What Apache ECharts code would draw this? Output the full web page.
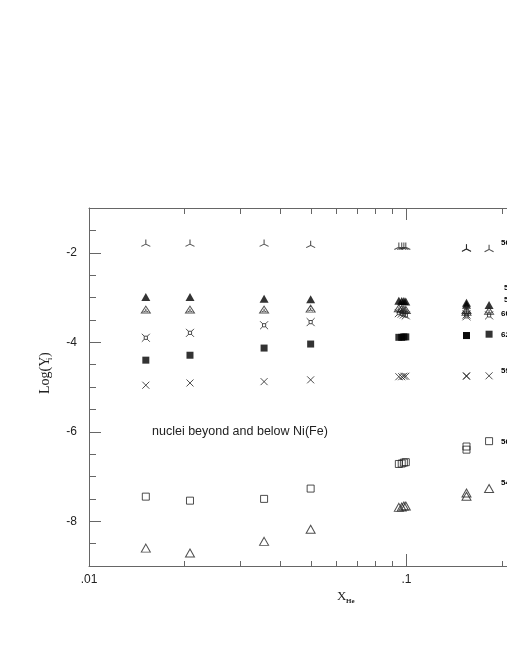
<!DOCTYPE html>
<html><head><meta charset="utf-8">
<script src="https://cdn.jsdelivr.net/npm/echarts@6/dist/echarts.min.js"></script>
<style>html,body{margin:0;padding:0;background:#fff}#c{width:507px;height:656px}</style>
</head><body><div id="c"></div>
<script>
// X_He of each model point (columns; the cluster near 0.1 and the pair at 0.15)
const xHe = [0.0151, 0.0208, 0.0356, 0.0499, 0.0946, 0.0966, 0.0981, 0.0995, 0.1545, 0.1545, 0.182];
// Log(Y_i) of each nucleus
const yTriStar   = [-1.78, -1.78, -1.78, -1.81, -1.85, -1.85, -1.85, -1.85, -1.89, -1.89, -1.90];
const yFilledTri = [-2.99, -2.99, -3.03, -3.04, -3.07, -3.08, -3.08, -3.09, -3.12, -3.16, -3.17];
const yTriA      = [-3.27, -3.27, -3.27, -3.25, -3.24, -3.26, -3.27, -3.28, -3.28, -3.32, -3.30];
const yFourStar  = [-3.90, -3.79, -3.62, -3.55, -3.35, -3.36, -3.38, -3.40, -3.38, -3.42, -3.40];
const yFilledSq  = [-4.40, -4.29, -4.13, -4.04, -3.89, -3.89, -3.88, -3.88, -3.85, -3.85, -3.82];
const yCross     = [-4.96, -4.91, -4.88, -4.84, -4.77, -4.77, -4.76, -4.76, -4.75, -4.76, -4.75];
const yOpenSq    = [-7.45, -7.54, -7.50, -7.27, -6.72, -6.71, -6.69, -6.68, -6.33, -6.40, -6.21];
const yOpenTri   = [-8.60, -8.71, -8.45, -8.18, -7.69, -7.68, -7.66, -7.66, -7.37, -7.44, -7.27];

const xMajorTicks = [0.01, 0.1, 1];
const xMinorTicks = [0.02, 0.03, 0.04, 0.05, 0.06, 0.07, 0.08, 0.09, 0.2, 0.3, 0.4, 0.5, 0.6, 0.7, 0.8, 0.9];
const xTickText = ['.01', '.1', '1'];
const yMajorTicks = [-8, -6, -4, -2];
const yMinorTicks = [-8.5, -7.5, -7, -6.5, -5.5, -5, -4.5, -3.5, -3, -2.5, -1.5];
const annotation = 'nuclei beyond and below Ni(Fe)';
const sideLabels = ['56Ni', '57Ni', '58Ni', '60Ni', '62Ni', '59Ni', '56Fe', '54Fe'];
const sideLabelY = [-1.77, -2.78, -3.05, -3.36, -3.84, -4.64, -6.22, -7.13];

const chart = echarts.init(document.getElementById('c'), null, {renderer: 'canvas'});
const G = {left: 89, top: 208, width: 635, height: 358};
const axisCol = '#666';
const pair = ys => xHe.map((x, i) => [x, ys[i]]);

function xAx(pos, ticks, len, showLine, labels) {
  return {
    type: 'log', logBase: 10, min: 0.01, max: 1, position: pos, gridIndex: 0,
    axisLine: {show: showLine, lineStyle: {color: axisCol, width: 1}},
    axisTick: {show: true, inside: true, length: len, customValues: ticks, lineStyle: {color: axisCol, width: 1}},
    axisLabel: labels ? {show: true, customValues: xMajorTicks, margin: 8, color: '#222', fontSize: 12,
      fontFamily: 'Liberation Sans, Arial', formatter: v => xTickText[xMajorTicks.findIndex(t => Math.abs(t - v) < 1e-9)] } : {show: false},
    splitLine: {show: false}
  };
}
function yAx(ticks, len, showLine, labels) {
  return {
    type: 'value', min: -9, max: -1, position: 'left', gridIndex: 0,
    axisLine: {show: showLine, lineStyle: {color: axisCol, width: 1}},
    axisTick: {show: true, inside: true, length: len, customValues: ticks, lineStyle: {color: axisCol, width: 1}},
    axisLabel: labels ? {show: true, customValues: yMajorTicks, margin: 12, color: '#222', fontSize: 12,
      fontFamily: 'Liberation Sans, Arial'} : {show: false},
    splitLine: {show: false}
  };
}

const openStyle = {color: 'rgba(0,0,0,0)', borderColor: '#222', borderWidth: 1};
const sym = {
  triStar: 'path://M4.33,0 L4.33,5 L0,7.5 M4.33,5 L8.66,7.5',
  triA: 'path://M5,0 L10,8.66 L0,8.66 Z M5,3.2 L5,5.77 M2.4,7.3 L5,5.77 L7.6,7.3',
  fourStar: 'path://M3,3 L7,3 L7,7 L3,7 Z M3,3 L0,0 M7,3 L10,0 M7,7 L10,10 M3,7 L0,10',
  cross: 'path://M0,0 L10,10 M0,10 L10,0'
};
function sc(name, ys, symbol, size, style) {
  return {type: 'scatter', name, xAxisIndex: 0, yAxisIndex: 0, data: pair(ys), symbol, symbolSize: size,
    symbolKeepAspect: true, itemStyle: style, emphasis: {disabled: true}, silent: true};
}

chart.setOption({
  animation: false,
  backgroundColor: '#fff',
  grid: Object.assign({containLabel: false, outerBoundsMode: 'none'}, G),
  xAxis: [
    xAx('bottom', xMajorTicks, 12, true, true),
    xAx('bottom', xMinorTicks, 5, false, false),
    xAx('top', xMajorTicks, 12, true, false),
    xAx('top', xMinorTicks, 6, false, false)
  ],
  yAxis: [
    yAx(yMajorTicks, 12, true, true),
    yAx(yMinorTicks, 7, false, false)
  ],
  series: [
    sc('triStar', yTriStar, sym.triStar, [9, 8], openStyle),
    sc('filledTri', yFilledTri, 'triangle', [9, 8], {color: '#000'}),
    sc('triA', yTriA, sym.triA, [9, 8], openStyle),
    sc('fourStar', yFourStar, sym.fourStar, 8, openStyle),
    sc('filledSq', yFilledSq, 'rect', 7, {color: '#000'}),
    sc('cross', yCross, sym.cross, 7, openStyle),
    sc('openSq', yOpenSq, 'rect', 7, openStyle),
    sc('openTri', yOpenTri, 'triangle', [9, 8], openStyle)
  ],
  graphic: [
    {type: 'text', left: 152, top: 425, style: {text: annotation, fontSize: 12.5, fill: '#222', fontFamily: 'Liberation Sans, Arial'}},
    {type: 'text', x: 337, y: 590, style: {text: 'X', fontSize: 13, fill: '#222', fontFamily: 'Liberation Serif, Times New Roman'}},
    {type: 'text', x: 346, y: 598, style: {text: 'He', fontSize: 7, fontWeight: 'bold', fill: '#222', fontFamily: 'Liberation Serif, Times New Roman'}},
    {type: 'group', x: 38, y: 394, rotation: Math.PI / 2, children: [
      {type: 'text', x: 0, y: 0, style: {text: 'Log(Y', fontSize: 14, fill: '#222', fontFamily: 'Liberation Serif, Times New Roman'}},
      {type: 'text', x: 34, y: 8, style: {text: 'i', fontSize: 8, fill: '#222', fontFamily: 'Liberation Serif, Times New Roman'}},
      {type: 'text', x: 37, y: 0, style: {text: ')', fontSize: 14, fill: '#222', fontFamily: 'Liberation Serif, Times New Roman'}}
    ]}
  ].concat(sideLabels.map((t, i) => ({
    type: 'text', x: 501 + (i === 1 || i === 2 ? 3 : 0), y: 208 + (-1 - sideLabelY[i]) * 44.75 - 4,
    style: {text: t, fontSize: 8, fontWeight: 'bold', fill: '#000', fontFamily: 'Liberation Sans, Arial'}
  })))
});
</script></body></html>
